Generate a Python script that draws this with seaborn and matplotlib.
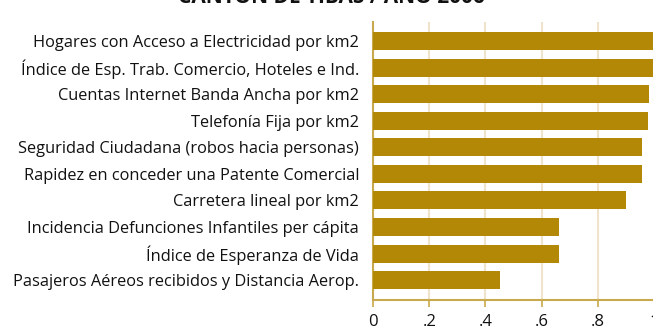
import matplotlib
matplotlib.use("Agg")
import matplotlib.pyplot as plt
import seaborn as sns
import pandas as pd

categories = [
    "Hogares con Acceso a Electricidad por km2",
    "Índice de Esp. Trab. Comercio, Hoteles e Ind.",
    "Cuentas Internet Banda Ancha por km2",
    "Telefonía Fija por km2",
    "Seguridad Ciudadana (robos hacia personas)",
    "Rapidez en conceder una Patente Comercial",
    "Carretera lineal por km2",
    "Incidencia Defunciones Infantiles per cápita",
    "Índice de Esperanza de Vida",
    "Pasajeros Aéreos recibidos y Distancia Aerop.",
]
values = [1.0, 1.0, 0.981, 0.977, 0.957, 0.957, 0.900, 0.662, 0.662, 0.452]
tick_values = [0, 0.2, 0.4, 0.6, 0.8, 1.0]
tick_labels = ["0", ".2", ".4", ".6", ".8", "1"]
title = "CANTÓN DE TIBÁS / AÑO 2006"

df = pd.DataFrame({"indicador": categories, "valor": values})

sns.set_theme(style="white")
plt.rcParams["font.family"] = ["Open Sans", "DejaVu Sans"]

W, H = 653, 331
fig = plt.figure(figsize=(W / 100, H / 100), dpi=100)
ax = fig.add_axes([373 / W, 1 - 300 / H, 281 / W, 278 / H])

bar_color = "#B38807"
axis_color = "#C9A94E"
grid_color = "#EFE4CB"

sns.barplot(data=df, x="valor", y="indicador", orient="h", color=bar_color,
            saturation=1, width=0.68, ax=ax, zorder=3, linewidth=0)

ax.set_xlim(0, 1.0)
ax.set_ylim(9.75, -0.72)
ax.set_xticks(tick_values)
ax.set_xticklabels(tick_labels, fontsize=12, color="#111111")
ax.set_xlabel("")
ax.set_ylabel("")
ax.tick_params(axis="y", length=0, pad=10, labelsize=11.8, labelcolor="#111111")
ax.tick_params(axis="x", length=5, width=1.2, color=axis_color, pad=5,
               direction="out", bottom=True)
for t in ax.get_xticklabels():
    t.set_clip_on(False)

ax.grid(axis="x", color=grid_color, linewidth=1.5, zorder=0)
ax.set_axisbelow(True)
for side in ["top", "right"]:
    ax.spines[side].set_visible(False)
for side in ["left", "bottom"]:
    ax.spines[side].set_color(axis_color)
    ax.spines[side].set_linewidth(1.5)

fig.text(0.508, 1 - 3 / H, title, ha="center", va="baseline",
         fontsize=15, fontweight="bold", color="#111111")

fig.savefig("out.png", dpi=100)
